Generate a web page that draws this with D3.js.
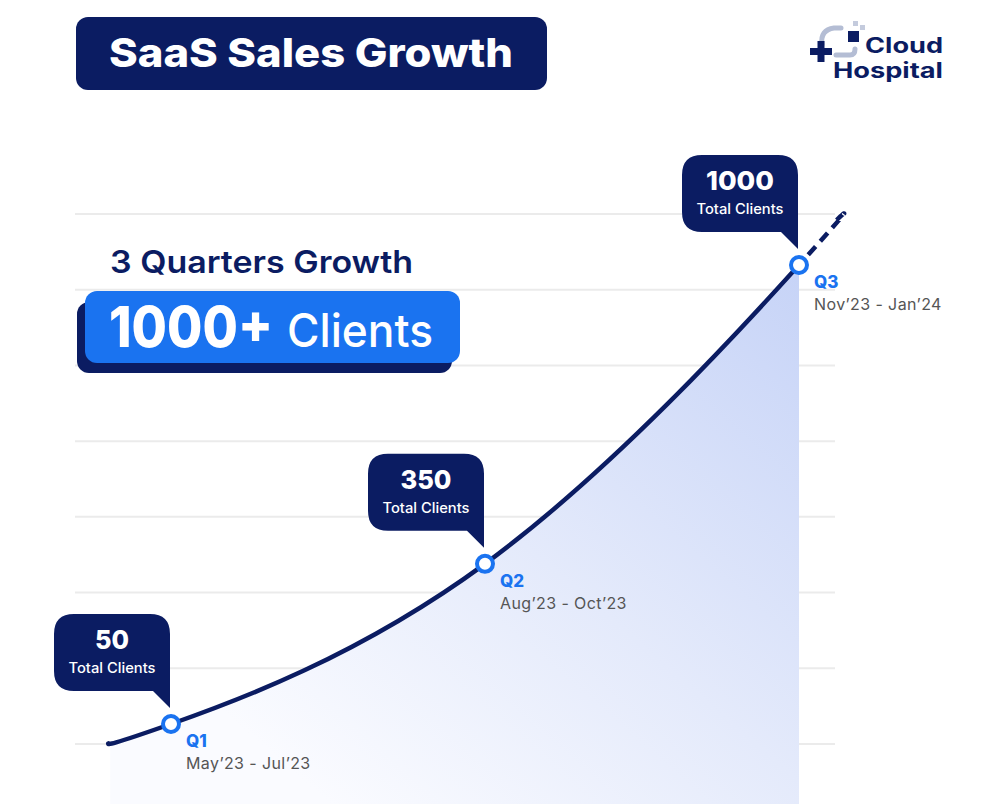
<!DOCTYPE html>
<html>
<head>
<meta charset="utf-8">
<script src="https://cdn.jsdelivr.net/npm/d3@7"></script>
<style>
  html, body { margin: 0; padding: 0; background: #ffffff; }
  svg { display: block; font-family: Inter, "Open Sans", sans-serif; }
</style>
</head>
<body>
<svg id="chart" width="1000" height="804"></svg>
<script>
// ---------------- data ----------------
const quarters = ["Q1", "Q2", "Q3"];
const periods = ["May\u201923 - Jul\u201923", "Aug\u201923 - Oct\u201923", "Nov\u201923 - Jan\u201924"];
const totalClients = [50, 350, 1000];
const calloutLabel = "Total Clients";
// lead-in before Q1 and projection after Q3 (quarter index, clients)
const leadIn = { index: -0.2, value: 20 };
const projection = { index: 2.115, value: 1100 };
const gridTicks = [0, 1, 2, 3, 4, 5, 6, 7];
const titleText = "SaaS Sales Growth";
const subtitleText = "3 Quarters Growth";
const highlightNumber = "1000+";
const highlightWord = "Clients";
const brandLines = ["Cloud", "Hospital"];

// ---------------- colours ----------------
const NAVY = "#0b1c62";
const BLUE = "#1a73f0";

const svg = d3.select("#chart");
const defs = svg.append("defs");

// ---------------- scales ----------------
const x = d3.scaleLinear().domain([0, 2]).range([171, 799]);
const y = d3.scalePow().exponent(0.885).domain([50, 1000]).range([724, 265]);
const gridY = d3.scaleLinear().domain([0, 7]).range([744, 214]);

// ---------------- grid ----------------
svg.append("g").selectAll("line").data(gridTicks).join("line")
  .attr("x1", 75).attr("x2", 835)
  .attr("y1", d => gridY(d)).attr("y2", d => gridY(d))
  .attr("stroke", "#ebebeb").attr("stroke-width", 2);

// ---------------- trend points ----------------
const pts = [leadIn]
  .concat(totalClients.map((v, i) => ({ index: i, value: v })))
  .concat([projection]);

const curve = d3.curveNatural;
const lineGen = d3.line().x(d => x(d.index)).y(d => y(d.value)).curve(curve);
const areaGen = d3.area().x(d => x(d.index)).y0(804).y1(d => y(d.value)).curve(curve);

const xLast = x(totalClients.length - 1);

// gradient for area
const grad = defs.append("linearGradient").attr("id", "areaGrad")
  .attr("gradientUnits", "userSpaceOnUse")
  .attr("x1", 800).attr("y1", 260).attr("x2", 330).attr("y2", 804);
grad.append("stop").attr("offset", 0).attr("stop-color", "#c6d3f7");
grad.append("stop").attr("offset", 0.55).attr("stop-color", "#e4eafb");
grad.append("stop").attr("offset", 1).attr("stop-color", "#fafbff");

defs.append("clipPath").attr("id", "clipSolid").append("rect")
  .attr("x", 0).attr("y", 0).attr("width", xLast).attr("height", 804);
defs.append("clipPath").attr("id", "clipDash").append("rect")
  .attr("x", xLast).attr("y", 0).attr("width", 1000 - xLast).attr("height", 804);
defs.append("clipPath").attr("id", "clipArea").append("rect")
  .attr("x", x(leadIn.index) + 2).attr("y", 0).attr("width", xLast - x(leadIn.index) - 2).attr("height", 804);

svg.append("path").datum(pts)
  .attr("d", areaGen)
  .attr("fill", "url(#areaGrad)")
  .attr("clip-path", "url(#clipArea)");

svg.append("path").datum(pts)
  .attr("d", lineGen)
  .attr("fill", "none").attr("stroke", NAVY).attr("stroke-width", 4.5)
  .attr("stroke-linecap", "round")
  .attr("clip-path", "url(#clipSolid)");

svg.append("path").datum(pts)
  .attr("d", lineGen)
  .attr("fill", "none").attr("stroke", NAVY).attr("stroke-width", 4.5)
  .attr("stroke-dasharray", "11 7").attr("stroke-dashoffset", -4)
  .attr("clip-path", "url(#clipDash)");

// ---------------- callouts ----------------
function calloutPath(tx, ty) {
  const w = 116, h = 77, r = 20, tail = 17, tailW = 17;
  const right = tx, left = tx - w, bottom = ty - tail, top = bottom - h;
  return [
    "M", left + r, top,
    "L", right - r, top,
    "Q", right, top, right, top + r,
    "L", right, ty,
    "L", right - tailW, bottom,
    "L", left + r, bottom,
    "Q", left, bottom, left, bottom - r,
    "L", left, top + r,
    "Q", left, top, left + r, top, "Z"
  ].join(" ");
}

const q = svg.append("g").selectAll("g").data(totalClients).join("g");

q.each(function (v, i) {
  const g = d3.select(this);
  const cx = x(i), cy = y(v);
  const tx = cx - 1, ty = cy - 16;
  const label = d3.format("d")(v);
  g.append("path").attr("d", calloutPath(tx, ty)).attr("fill", NAVY);
  g.append("text").attr("x", tx - 58).attr("y", ty - 59)
    .attr("text-anchor", "middle").attr("fill", "#fff")
    .attr("font-size", 26).attr("font-weight", 800)
    .attr("textLength", label.length * 17).attr("lengthAdjust", "spacingAndGlyphs")
    .text(label);
  g.append("text").attr("x", tx - 58).attr("y", ty - 35)
    .attr("text-anchor", "middle").attr("fill", "#fff")
    .attr("font-size", 14).attr("font-weight", 500)
    .attr("textLength", 87).attr("lengthAdjust", "spacingAndGlyphs")
    .text(calloutLabel);
  g.append("circle").attr("cx", cx).attr("cy", cy).attr("r", 8)
    .attr("fill", "#fff").attr("stroke", BLUE).attr("stroke-width", 4);
  g.append("text").attr("x", cx + 15).attr("y", cy + 23)
    .attr("fill", BLUE).attr("font-size", 17).attr("font-weight", 800)
    .text(quarters[i]);
  g.append("text").attr("x", cx + 15).attr("y", cy + 45)
    .attr("fill", "#555555").attr("font-size", 16).attr("font-weight", 400)
    .attr("letter-spacing", 0.4)
    .text(periods[i]);
});

// ---------------- title ----------------
svg.append("rect").attr("x", 76).attr("y", 17).attr("width", 471).attr("height", 73)
  .attr("rx", 12).attr("fill", NAVY);
svg.append("text").attr("x", 109).attr("y", 67)
  .attr("fill", "#fff").attr("font-size", 40).attr("font-weight", 800)
  .attr("textLength", 404).attr("lengthAdjust", "spacingAndGlyphs")
  .text(titleText);

// ---------------- highlight ----------------
svg.append("text").attr("x", 110).attr("y", 273)
  .attr("fill", NAVY).attr("font-size", 31).attr("font-weight", 600)
  .attr("textLength", 303).attr("lengthAdjust", "spacingAndGlyphs")
  .text(subtitleText);
svg.append("rect").attr("x", 77).attr("y", 302).attr("width", 375).attr("height", 71)
  .attr("rx", 12).attr("fill", NAVY);
svg.append("rect").attr("x", 85).attr("y", 291).attr("width", 375).attr("height", 72)
  .attr("rx", 12).attr("fill", BLUE);
svg.append("text").attr("x", 109).attr("y", 347)
  .attr("fill", "#fff").attr("font-size", 56).attr("font-weight", 800)
  .attr("textLength", 164).attr("lengthAdjust", "spacingAndGlyphs")
  .text(highlightNumber);
svg.append("text").attr("x", 287).attr("y", 347)
  .attr("fill", "#fff").attr("font-size", 46).attr("font-weight", 500)
  .attr("textLength", 146).attr("lengthAdjust", "spacingAndGlyphs")
  .text(highlightWord);

// ---------------- logo ----------------
const logo = svg.append("g");
logo.append("path")
  .attr("d", "M 822 44 Q 820 30 834 28 L 841 28")
  .attr("fill", "none").attr("stroke", "#b4bdd4").attr("stroke-width", 5).attr("stroke-linecap", "round");
logo.append("path")
  .attr("d", "M 836 55 L 850 55 Q 855 55 855 49")
  .attr("fill", "none").attr("stroke", "#b4bdd4").attr("stroke-width", 5).attr("stroke-linecap", "round");
logo.append("rect").attr("x", 848).attr("y", 31).attr("width", 11).attr("height", 11).attr("fill", NAVY);
logo.append("rect").attr("x", 853).attr("y", 21).attr("width", 5).attr("height", 5).attr("fill", "#c4cbdd");
logo.append("rect").attr("x", 860).attr("y", 25).attr("width", 5).attr("height", 5).attr("fill", "#c4cbdd");
logo.append("rect").attr("x", 810).attr("y", 48).attr("width", 22).attr("height", 7).attr("fill", NAVY);
logo.append("rect").attr("x", 817.5).attr("y", 41).attr("width", 7).attr("height", 21).attr("fill", NAVY);
logo.append("text").attr("x", 865).attr("y", 53)
  .attr("fill", NAVY).attr("font-size", 21).attr("font-weight", 700)
  .attr("textLength", 78).attr("lengthAdjust", "spacingAndGlyphs").text(brandLines[0]);
logo.append("text").attr("x", 833).attr("y", 78)
  .attr("fill", NAVY).attr("font-size", 21).attr("font-weight", 700)
  .attr("textLength", 110).attr("lengthAdjust", "spacingAndGlyphs").text(brandLines[1]);
</script>
</body>
</html>
